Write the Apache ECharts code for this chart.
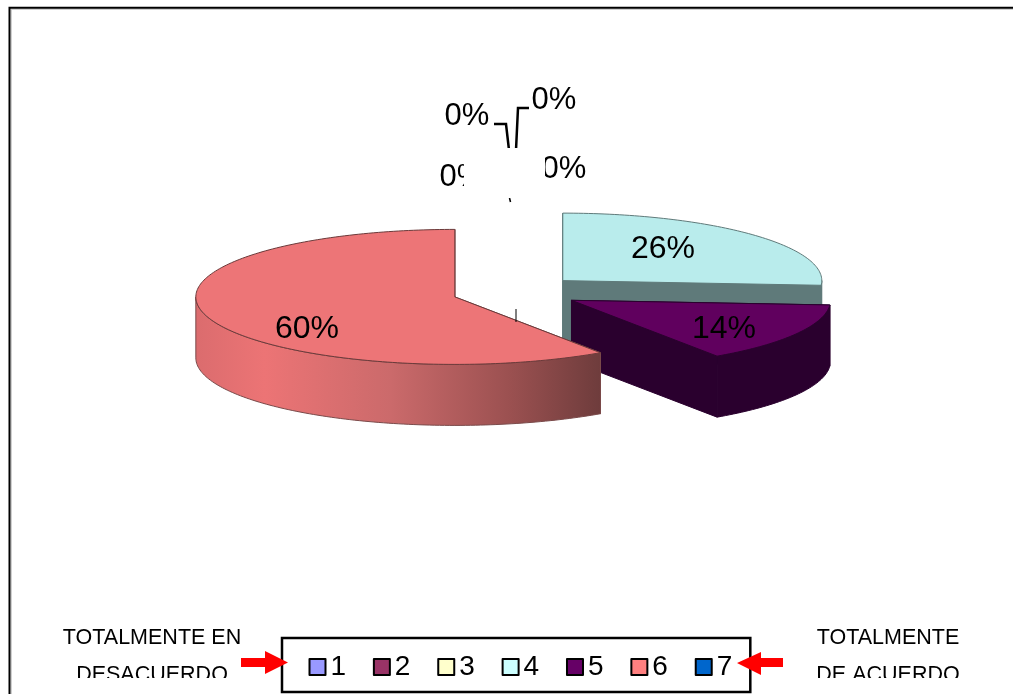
<!doctype html>
<html style="width: 100%; height: 100%">
<head>
    <meta charset="utf-8">
    <script src="https://cdn.jsdelivr.net/npm/echarts@6/dist/echarts.min.js"></script>
</head>
<body style="width: 100%; height: 100%; margin: 0; background: #fff">
    <div id="container" style="width: 100%; height: 100%"></div>
    <script type="text/javascript">
        var categories = ['1', '2', '3', '4', '5', '6', '7'];
        var shares = [0, 0, 0, 26.1, 14.4, 59.5, 0];
        var legendColors = ['#9999FF', '#993366', '#FFFFCC', '#CCFFFF', '#660066', '#FF8080', '#0066CC'];
        var topColors = ['#9999FF', '#993366', '#FFFFCC', '#B9ECEC', '#60005E', '#ED7577', '#0066CC'];
        var wallColors = ['#6a6ab0', '#6a2347', '#b0b08c', '#5F7A7A', '#2A002E', '#C96A6B', '#00478d'];

        // picture layout of the tilted pie
        var cx = 516, cy = 292, rx = 259, ry = 67.5, depth = 61, explode = 64;
        var fontName = '"Liberation Sans", Arial, sans-serif';
        var labelSpots = { 3: [663, 249], 4: [724, 329], 5: [307, 329] };
        var zeroLabelSpots = { 0: [467, 116], 1: [554, 100], 2: [564, 169], 6: [462, 177] };

        var total = shares.reduce(function (a, b) { return a + b; }, 0);

        function startAngle(idx) {
            var sum = 0;
            // the first three are empty, so the pie really starts at the 4th slice
            for (var i = 0; i < idx; i++) sum += shares[i];
            return sum / total * Math.PI * 2;
        }

        function pt(x0, y0, a, drop) {
            return [x0 + rx * Math.sin(a), y0 - ry * Math.cos(a) + (drop || 0)];
        }

        function arc(x0, y0, a0, a1, drop) {
            var out = [];
            var steps = Math.max(2, Math.ceil((a1 - a0) / 0.02));
            for (var i = 0; i <= steps; i++) {
                out.push(pt(x0, y0, a0 + (a1 - a0) * i / steps, drop));
            }
            return out;
        }

        function wallPoly(x0, y0, from) {
            return { type: 'polygon', shape: { points: [[x0, y0], from, [from[0], from[1] + depth], [x0, y0 + depth]] } };
        }

        function makeSlice(idx) {
            return function () {
                var children = [];
                var a0 = startAngle(idx);
                var a1 = a0 + shares[idx] / total * Math.PI * 2;
                var mid = (a0 + a1) / 2;
                var x0 = cx + explode * Math.sin(mid);
                var y0 = cy - explode * (ry / rx) * Math.cos(mid);
                var wallFill = wallColors[idx];
                if (idx === 5) {
                    wallFill = new echarts.graphic.LinearGradient(196, 0, 601, 0, [
                        { offset: 0, color: '#DB6C6E' },
                        { offset: 0.17, color: '#EC7475' },
                        { offset: 0.48, color: '#CB6A6B' },
                        { offset: 0.78, color: '#9A5050' },
                        { offset: 1, color: '#6E3C3C' }
                    ], true);
                }
                var edge = idx === 5 ? '#6b3a3a' : idx === 3 ? '#5f7a7a' : '#2a002e';
                var wallStyle = { fill: wallFill, stroke: idx === 5 ? '#7a4a4a' : wallColors[idx], lineWidth: 1 };

                var w1 = wallPoly(x0, y0, pt(x0, y0, a0));
                w1.style = wallStyle;
                var w2 = wallPoly(x0, y0, pt(x0, y0, a1));
                w2.style = wallStyle;
                children.push(w1, w2);

                // outer rim, only the part that faces the viewer
                var fa0 = Math.max(a0, Math.PI / 2);
                var fa1 = Math.min(a1, Math.PI * 1.5);
                if (fa1 > fa0) {
                    var rim = arc(x0, y0, fa0, fa1).concat(arc(x0, y0, fa0, fa1, depth).reverse());
                    children.push({ type: 'polygon', shape: { points: rim }, style: wallStyle });
                }

                var topPts = [[x0, y0]].concat(arc(x0, y0, a0, a1));
                children.push({
                    type: 'polygon',
                    shape: { points: topPts },
                    style: { fill: topColors[idx], stroke: edge, lineWidth: 1 }
                });
                children.push({
                    type: 'text',
                    style: {
                        text: Math.round(shares[idx] / total * 100) + '%',
                        x: labelSpots[idx][0], y: labelSpots[idx][1],
                        align: 'center', verticalAlign: 'middle',
                        font: '32px ' + fontName, fill: '#000'
                    }
                });
                return { type: 'group', children: children };
            };
        }

        function makeZero(idx) {
            return function () {
                var spot = zeroLabelSpots[idx];
                var children = [{
                    type: 'text',
                    style: {
                        text: Math.round(shares[idx] / total * 100) + '%',
                        x: spot[0], y: spot[1],
                        align: 'center', verticalAlign: 'middle',
                        font: '31px ' + fontName, fill: '#000'
                    }
                }];
                return { type: 'group', children: children };
            };
        }

        var seriesList = categories.map(function (name, i) {
            return {
                name: name,
                type: 'custom',
                coordinateSystem: 'none',
                silent: true,
                itemStyle: { color: legendColors[i] },
                data: [shares[i]],
                renderItem: shares[i] > 0 ? makeSlice(i) : makeZero(i)
            };
        });

        function sideText(text, x, y) {
            return { type: 'text', z: 6, style: { text: text, x: x, y: y, align: 'center', verticalAlign: 'middle', font: '21.5px ' + fontName, fill: '#000' } };
        }

        function leader(points, w) {
            return { type: 'polyline', z: 4, shape: { points: points }, style: { stroke: '#000', lineWidth: w || 2.5, fill: null } };
        }

        var option = {
            animation: false,
            backgroundColor: '#fff',
            legend: {
                data: categories,
                left: 282,
                top: 638,
                orient: 'horizontal',
                icon: 'rect',
                itemWidth: 16,
                itemHeight: 16,
                itemGap: 26.8,
                padding: [15, 18, 11, 26.5],
                borderColor: '#000',
                borderWidth: 2.5,
                selectedMode: false,
                itemStyle: { borderColor: '#000', borderWidth: 2, borderJoin: 'round' },
                textStyle: { fontFamily: fontName, fontSize: 28, color: '#000' }
            },
            graphic: [
                // frame of the pasted picture, it runs off the page on the right and at the bottom
                { type: 'rect', z: 0, shape: { x: 11.2, y: 9.2, width: 1100, height: 800 }, style: { fill: '#fff', stroke: '#bbb', lineWidth: 1 } },
                { type: 'polyline', z: 1, shape: { points: [[9.5, 800], [9.5, 7.7], [1100, 7.7]] }, style: { fill: null, stroke: '#000', lineWidth: 2 } },
                leader([[494, 124], [506, 124], [509, 150]]),
                leader([[529, 108], [518, 108], [516, 150]]),
                // bit of the empty slices' edge that stays visible next to the pink slice
                leader([[516, 309], [516, 322]], 1),
                { type: 'rect', z: 5, shape: { x: 464, y: 148, width: 81, height: 50 }, style: { fill: '#fff' } },
                leader([[509.5, 198], [510.5, 202]], 1.5),
                sideText('TOTALMENTE EN', 152, 638),
                sideText('DESACUERDO', 152, 675),
                sideText('TOTALMENTE', 888, 638),
                sideText('DE ACUERDO', 888, 675),
                { type: 'rect', z: 7, shape: { x: 40, y: 678, width: 240, height: 20 }, style: { fill: '#fff' } },
                { type: 'rect', z: 7, shape: { x: 790, y: 678, width: 200, height: 20 }, style: { fill: '#fff' } },
                { type: 'polygon', z: 8, shape: { points: [[241, 658], [265, 658], [265, 651], [288, 662.5], [265, 674], [265, 667], [241, 667]] }, style: { fill: '#FF0000' } },
                { type: 'polygon', z: 8, shape: { points: [[783, 658], [761, 658], [761, 652], [737, 663], [761, 675], [761, 667], [783, 667]] }, style: { fill: '#FF0000' } }
            ],
            series: seriesList
        };

        var dom = document.getElementById('container');
        var myChart = echarts.init(dom);
        myChart.setOption(option);
    </script>
</body>
</html>
